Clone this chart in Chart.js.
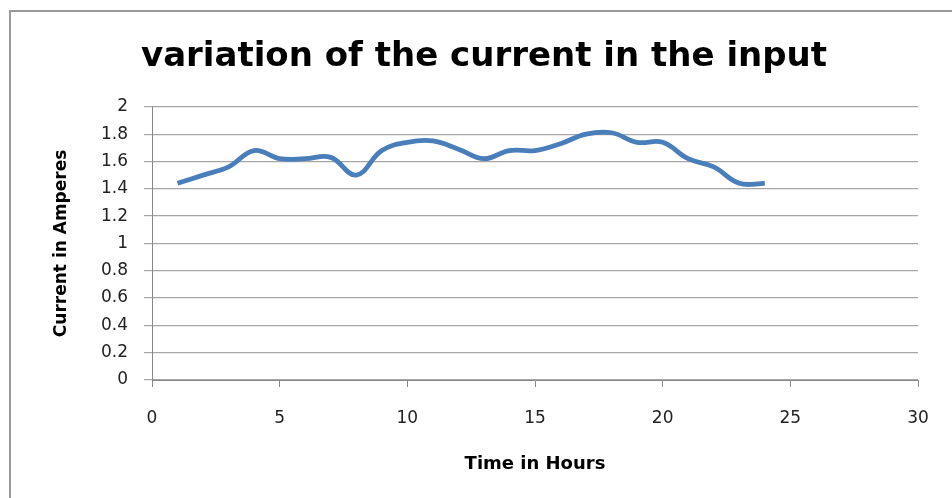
<!DOCTYPE html>
<html>
<head>
<meta charset="utf-8">
<script src="https://cdn.jsdelivr.net/npm/chart.js@4/dist/chart.umd.min.js"></script>
<style>
  html, body { margin: 0; padding: 0; background: #fff; }
  #wrap { width: 952px; height: 498px; position: relative; }
</style>
</head>
<body>
<div id="wrap"><canvas id="chart-corriente" width="952" height="498"></canvas></div>
<script>
// horas y corriente
const horas = [1, 2, 3, 4, 5, 6, 7, 8, 9, 10, 11, 12, 13, 14, 15, 16, 17, 18, 19, 20, 21, 22, 23, 24];
const corriente = [1.44, 1.50, 1.56, 1.68, 1.62, 1.62, 1.63, 1.50, 1.68, 1.74, 1.75, 1.69,
                   1.62, 1.68, 1.68, 1.73, 1.80, 1.81, 1.74, 1.74, 1.62, 1.56, 1.44, 1.44];
const xTicks = [0, 5, 10, 15, 20, 25, 30];
const yTicks = [0, 0.2, 0.4, 0.6, 0.8, 1, 1.2, 1.4, 1.6, 1.8, 2];

const titulo = "variation of the current in the input";
const tituloX = "Time in Hours";
const tituloY = "Current in Amperes";

// marco gris alrededor del grafico
const marco = {
  id: 'marco',
  beforeDraw(chart) {
    let ctx = chart.ctx;
    ctx.save();
    ctx.fillStyle = '#fff';
    ctx.fillRect(0, 0, chart.width, chart.height);
    ctx.strokeStyle = '#999';
    ctx.lineWidth = 2;
    ctx.strokeRect(10, 11, chart.width + 20, chart.height + 20);
    ctx.restore();
  }
};

let ctxCorriente = document.getElementById('chart-corriente').getContext('2d');

let corrienteChart = new Chart(ctxCorriente, {
  type: 'line',
  data: {
    datasets: [{
      label: 'Current',
      data: horas.map((h, i) => ({ x: h, y: corriente[i] })),
      borderColor: '#4A7EBB',
      borderWidth: 4.8,
      pointRadius: 0,
      tension: 0.4,
      fill: false
    }]
  },
  options: {
    responsive: false,
    animation: false,
    layout: { padding: { left: 50, right: 34, top: 0, bottom: 0 } },
    plugins: {
      legend: { display: false },
      tooltip: { enabled: false },
      title: {
        display: true,
        text: titulo,
        color: '#000',
        font: { family: 'DejaVu Sans', size: 34, weight: 'bold', lineHeight: 1.2 },
        padding: { top: 37, bottom: 29 }
      }
    },
    scales: {
      x: {
        type: 'linear',
        min: 0,
        max: 30,
        afterBuildTicks: s => { s.ticks = xTicks.map(v => ({ value: v })); },
        afterFit: s => { s.height = 118; },
        grid: { drawOnChartArea: false, drawTicks: true, tickLength: 7, color: '#888' },
        border: { color: '#888', width: 1 },
        ticks: { color: '#222', font: { family: 'DejaVu Sans', size: 17 }, padding: 21, maxRotation: 0,
                 callback: v => String(v) },
        title: {
          display: true,
          text: tituloX,
          color: '#000',
          font: { family: 'DejaVu Sans', size: 18, weight: 'bold', lineHeight: 1.2 },
          padding: { top: 0, bottom: 23 }
        }
      },
      y: {
        min: 0,
        max: 2,
        afterBuildTicks: s => { s.ticks = yTicks.map(v => ({ value: v })); },
        afterFit: s => { s.width = 102; },
        grid: { color: '#a6a6a6', tickLength: 8, lineWidth: 1.2 },
        border: { color: '#888', width: 1 },
        ticks: { color: '#222', font: { family: 'DejaVu Sans', size: 17 }, padding: 16,
                 callback: v => String(v) },
        title: {
          display: true,
          text: tituloY,
          color: '#000',
          font: { family: 'DejaVu Sans', size: 17, weight: 'bold', lineHeight: 1.2 },
          padding: { top: 1, bottom: 0 }
        }
      }
    }
  },
  plugins: [marco]
});
</script>
</body>
</html>
